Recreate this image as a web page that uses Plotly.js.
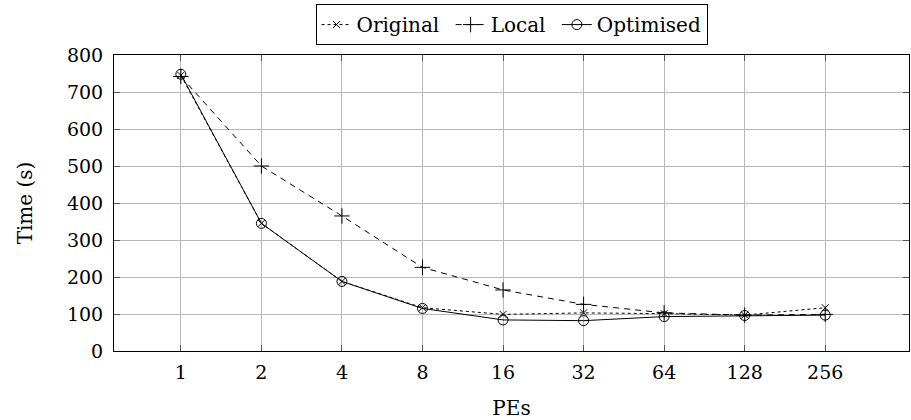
<!DOCTYPE html>
<html>
<head>
<meta charset="utf-8">
<script src="https://cdn.plot.ly/plotly-3.0.1.min.js"></script>
<style>html,body{margin:0;padding:0;background:#fff;}#chart{width:911px;height:420px;}</style>
</head>
<body>
<div id="chart"></div>
<script>
const pes = ['1', '2', '4', '8', '16', '32', '64', '128', '256'];
const original = [745, 345, 188, 117, 99, 103, 101, 97, 117];
const local = [742, 500, 365, 226, 165, 126, 103, 97, 99];
const optimised = [748, 345, 188, 115, 84, 82, 93, 96, 97];

const font = '"DejaVu Serif", serif';

const traces = [
  {name: 'Original\u00a0', x: pes, y: original, type: 'scatter', mode: 'lines+markers',
   line: {color: '#000', width: 1, dash: 'dot'},
   marker: {symbol: 'x-thin-open', size: 7, color: '#000', line: {color: '#000', width: 1}}},
  {name: 'Local\u00a0', x: pes, y: local, type: 'scatter', mode: 'lines+markers',
   line: {color: '#000', width: 1, dash: '6px,5px'},
   marker: {symbol: 'cross-thin-open', size: 11, color: '#000', line: {color: '#000', width: 1}}},
  {name: 'Optimised', x: pes, y: optimised, type: 'scatter', mode: 'lines+markers',
   line: {color: '#000', width: 1, dash: 'solid'},
   marker: {symbol: 'circle-open', size: 10, color: '#000', line: {color: '#000', width: 1}}}
];

const layout = {
  width: 911, height: 420,
  margin: {l: 114, r: 2, t: 55, b: 69},
  paper_bgcolor: '#fff', plot_bgcolor: '#fff',
  font: {family: font, size: 19, color: '#000'},
  showlegend: true,
  legend: {orientation: 'h', x: 0.5, xanchor: 'center', y: 1.172, yanchor: 'top',
           bordercolor: '#000', borderwidth: 1, font: {family: font, size: 20},
           itemwidth: 30, tracegroupgap: 0},
  xaxis: {type: 'category', range: [-0.83, 9.04],
          showgrid: true, gridcolor: '#b8b8b8', gridwidth: 1,
          showline: true, linecolor: '#000', linewidth: 1, mirror: 'ticks',
          ticks: 'inside', ticklen: 6, tickcolor: '#555', ticklabelstandoff: 4,
          tickfont: {family: font, size: 19}, zeroline: false,
          title: {text: 'PEs', font: {family: font, size: 20}, standoff: 20}},
  yaxis: {range: [0, 800], dtick: 100,
          showgrid: true, gridcolor: '#b8b8b8', gridwidth: 1,
          showline: true, linecolor: '#000', linewidth: 1, mirror: 'ticks',
          ticks: 'inside', ticklen: 6, tickcolor: '#555', ticklabelstandoff: 6,
          tickfont: {family: font, size: 19}, zeroline: false,
          title: {text: 'Time (s)', font: {family: font, size: 20}, standoff: 28}}
};

Plotly.newPlot('chart', traces, layout, {displayModeBar: false, staticPlot: true});
</script>
</body>
</html>
